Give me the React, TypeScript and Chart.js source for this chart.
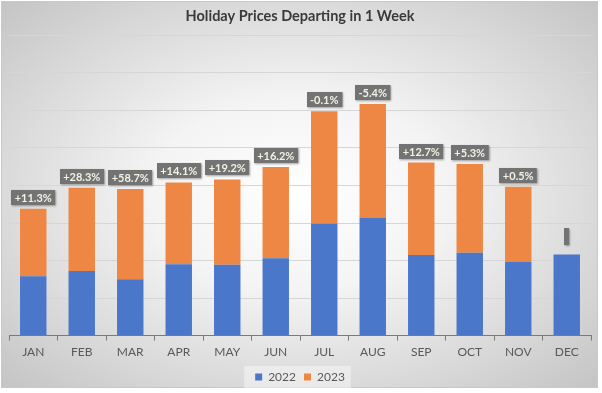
import React, { useEffect, useRef } from 'react';
import { Chart, registerables } from 'chart.js';

Chart.register(...registerables);

const months = ['JAN', 'FEB', 'MAR', 'APR', 'MAY', 'JUN', 'JUL', 'AUG', 'SEP', 'OCT', 'NOV', 'DEC'];
const prices2022 = [158, 172, 150, 190, 189, 206, 299, 315, 215, 221, 196, 216];
const prices2023 = [180, 222, 241, 218, 227, 243, 299, 302, 246, 236, 201, null];
const changeLabels = ['+11.3%', '+28.3%', '+58.7%', '+14.1%', '+19.2%', '+16.2%', '-0.1%', '-5.4%', '+12.7%', '+5.3%', '+0.5%', ''];

const FONT = 'Lato, "Open Sans", sans-serif';

const backgroundPlugin = {
  id: 'bgPlugin',
  beforeDraw(chart: any) {
    const ctx = chart.ctx as CanvasRenderingContext2D;
    const w = chart.width;
    const h = chart.height;
    ctx.save();
    ctx.fillStyle = '#ffffff';
    ctx.fillRect(0, 0, w, h);
    const bx = 1, by = 1, bw = 597, bh = 387;
    const cx = bx + bw / 2, cy = by + bh / 2;
    ctx.save();
    ctx.translate(cx, cy);
    ctx.scale(1, bh / bw);
    const r = Math.sqrt(2) * bw / 2;
    const g = ctx.createRadialGradient(0, 0, 0, 0, 0, r);
    g.addColorStop(0, '#ffffff');
    g.addColorStop(0.35, '#f4f4f4');
    g.addColorStop(1, '#c4c4c4');
    ctx.fillStyle = g;
    ctx.fillRect(-bw / 2, -bw / 2, bw, bw);
    ctx.restore();
    ctx.strokeStyle = '#c8c8c8';
    ctx.lineWidth = 1;
    ctx.strokeRect(bx + 0.5, by + 0.5, bw - 1, bh - 1);

    const lg = chart.legend;
    if (lg && lg.legendHitBoxes && lg.legendHitBoxes.length) {
      const boxes = lg.legendHitBoxes;
      const left = boxes[0].left - 11;
      const right = boxes[boxes.length - 1].left + boxes[boxes.length - 1].width + 6;
      const midY = boxes[0].top + boxes[0].height / 2;
      ctx.fillStyle = 'rgba(245,245,245,0.55)';
      ctx.fillRect(left, midY - 11, right - left, 22);
    }
    ctx.restore();
  },
};

const labelPlugin = {
  id: 'changeLabels',
  afterDatasetsDraw(chart: any) {
    const ctx = chart.ctx as CanvasRenderingContext2D;
    const yScale = chart.scales.y;
    const meta0 = chart.getDatasetMeta(0);
    ctx.save();
    ctx.font = `bold 11px ${FONT}`;
    ctx.textAlign = 'center';
    ctx.textBaseline = 'middle';
    changeLabels.forEach((txt, i) => {
      const total = (prices2022[i] ?? 0) + (prices2023[i] ?? 0);
      const el = meta0.data[i];
      if (!el) return;
      const x = el.x;
      const yTop = yScale.getPixelForValue(total);
      const tw = ctx.measureText(txt).width;
      const empty = txt === '';
      const w = empty ? 5 : tw + 7;
      const h = empty ? 17 : 15;
      const gap = empty ? 10 : 4;
      const bx = Math.round(x - w / 2);
      const by = Math.round(yTop - gap - h);
      ctx.shadowColor = 'rgba(0,0,0,0.35)';
      ctx.shadowBlur = 2;
      ctx.shadowOffsetX = 1;
      ctx.shadowOffsetY = 1;
      ctx.fillStyle = '#737373';
      ctx.fillRect(bx, by, w, h);
      ctx.shadowColor = 'transparent';
      ctx.shadowBlur = 0;
      ctx.shadowOffsetX = 0;
      ctx.shadowOffsetY = 0;
      if (!empty) {
        ctx.fillStyle = '#eef3e4';
        ctx.fillText(txt, x, by + h / 2 + 0.5);
      }
    });
    ctx.restore();
  },
};

export default function App() {
  const canvasRef = useRef<HTMLCanvasElement | null>(null);

  useEffect(() => {
    document.body.style.margin = '0';
    const canvas = canvasRef.current;
    if (!canvas) return;
    const chart = new Chart(canvas, {
      type: 'bar',
      data: {
        labels: months,
        datasets: [
          {
            label: '2022',
            data: prices2022,
            backgroundColor: '#4a77c9',
            categoryPercentage: 1,
            barPercentage: 0.545,
          },
          {
            label: '2023',
            data: prices2023 as any,
            backgroundColor: '#ee8644',
            categoryPercentage: 1,
            barPercentage: 0.545,
          },
        ],
      },
      options: {
        responsive: false,
        animation: false,
        devicePixelRatio: 1,
        layout: { padding: { left: 9, right: 11, top: 0, bottom: 0 } },
        plugins: {
          title: {
            display: true,
            text: 'Holiday Prices Departing in 1 Week',
            color: '#3a3a3a',
            font: { family: FONT, size: 14.5, weight: 'bold' },
            padding: { top: 8, bottom: 10 },
          },
          legend: {
            position: 'bottom',
            labels: {
              boxWidth: 7,
              boxHeight: 7,
              color: '#595959',
              font: { family: FONT, size: 12 },
              padding: 8,
            },
          },
          tooltip: { enabled: false },
        },
        scales: {
          x: {
            stacked: true,
            grid: {
              drawOnChartArea: false,
              drawTicks: true,
              tickLength: 5,
              color: '#7a7a7a',
            },
            border: { display: true, color: '#7a7a7a' },
            ticks: {
              color: '#595959',
              font: { family: FONT, size: 12 },
              padding: 4,
            },
          },
          y: {
            stacked: true,
            min: 0,
            max: 800,
            ticks: { display: false, stepSize: 100 },
            grid: { color: '#d6d6d6', drawTicks: false },
            border: { display: false },
          },
        },
      },
      plugins: [backgroundPlugin, labelPlugin],
    });
    return () => chart.destroy();
  }, []);

  return (
    <div style={{ width: 602, height: 393 }}>
      <canvas ref={canvasRef} width={602} height={393} style={{ display: 'block' }} />
    </div>
  );
}
